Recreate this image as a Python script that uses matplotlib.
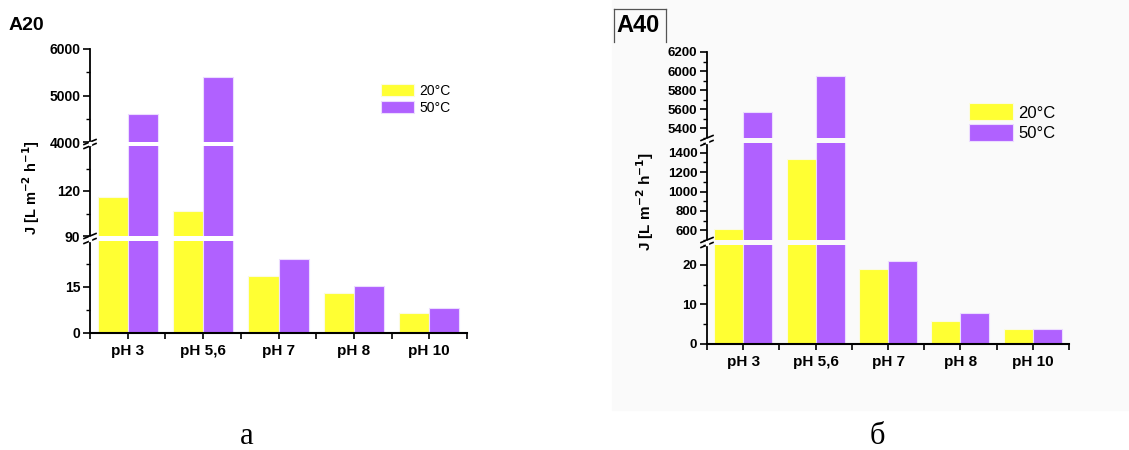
import matplotlib
matplotlib.use("Agg")
import matplotlib.pyplot as plt
from matplotlib.lines import Line2D
from matplotlib.patches import Rectangle
import numpy as np

plt.rcParams['font.family'] = ['Liberation Sans', 'DejaVu Sans']

# data
categories = ['pH 3', 'pH 5,6', 'pH 7', 'pH 8', 'pH 10']
a20_t20 = [116, 107, 18.6, 12.9, 6.5]
a20_t50 = [4610, 5400, 24.1, 15.3, 8.1]
a40_t20 = [610, 1340, 18.9, 5.9, 3.9]
a40_t50 = [5570, 5950, 20.9, 7.9, 3.9]
labels = ['20°C', '50°C']

c20 = '#FFFF33'
c50 = '#B061FF'

W, H = 1129, 450
fig = plt.figure(figsize=(W / 100, H / 100), dpi=100)

# faint grey backdrop behind the right panel
fig.add_artist(Rectangle((612 / W, 1 - 410 / H), (W - 612) / W, 410 / H,
                         transform=fig.transFigure, color='#fafafa', zorder=-10))


def px(x, y):
    return x / W, 1 - y / H


def panel(x0, x1, segs, v20, v50, ysize):
    # segs: (ylim, top px, bottom px, major ticks, minor ticks), top segment first
    axes = []
    x = np.arange(len(categories))
    for i, (ylim, ytop, ybot, major, minor) in enumerate(segs):
        ax = fig.add_axes([x0 / W, 1 - ybot / H, (x1 - x0) / W, (ybot - ytop) / H])
        ax.patch.set_alpha(0)
        ax.bar(x - 0.2, v20, 0.4, color=c20, edgecolor='#fbfbe0', linewidth=0.8, label=labels[0])
        ax.bar(x + 0.2, v50, 0.4, color=c50, edgecolor='#ecdcff', linewidth=0.8, label=labels[1])
        ax.set_xlim(-0.5, len(categories) - 0.5)
        ax.set_ylim(*ylim)
        ax.set_yticks(major)
        ax.set_yticks(minor, minor=True)
        for s in ['top', 'right']:
            ax.spines[s].set_visible(False)
        ax.spines['left'].set_linewidth(1.3)
        ax.spines['bottom'].set_linewidth(1.5)
        ax.tick_params(axis='y', which='major', direction='out', length=5, width=1.2,
                       labelsize=ysize, pad=2)
        ax.tick_params(axis='y', which='minor', direction='out', length=3, width=1)
        for t in ax.get_yticklabels():
            t.set_fontweight('bold')
        last = i == len(segs) - 1
        if last:
            ax.set_xticks(x)
            ax.set_xticks(np.arange(-0.5, len(categories), 1.0), minor=True)
            ax.set_xticklabels(categories, fontsize=11, fontweight='bold')
            ax.tick_params(axis='x', which='both', direction='out', length=4, width=1.2, pad=4)
        else:
            ax.spines['bottom'].set_visible(False)
            ax.set_xticks([])
        axes.append(ax)
    # break marks on the y axis between segments
    for j in range(len(segs) - 1):
        yb = segs[j][2]
        yt = segs[j + 1][1]
        for yy in (yb, yt):
            fig.add_artist(Line2D([(x0 - 6) / W, (x0 + 6) / W],
                                  [1 - (yy + 2.5) / H, 1 - (yy - 2.5) / H],
                                  transform=fig.transFigure, color='black', lw=1.2))
        fig.add_artist(Rectangle(((x0 - 1) / W, 1 - (yt - 0.5) / H), 2 / W, (yt - yb - 1) / H,
                                 transform=fig.transFigure, color='white', zorder=5))
    return axes


# panel a (A20)
left_axes = panel(90, 467, [
    ((4000, 6000), 49, 142, [4000, 5000, 6000], [4500, 5500]),
    ((90, 150), 146, 236, [90, 120], [105, 135]),
    ((0, 30), 241, 333, [0, 15], [7.5, 22.5]),
], a20_t20, a20_t50, 10)

# panel б (A40)
right_axes = panel(707, 1069, [
    ((5300, 6200), 52, 138, np.arange(5400, 6201, 200), np.arange(5300, 6201, 100)),
    ((500, 1500), 143, 240, np.arange(600, 1401, 200), np.arange(500, 1501, 100)),
    ((0, 25), 245, 344, [0, 10, 20], [5, 15, 25]),
], a40_t20, a40_t50, 9.5)

# legends
left_axes[0].legend(loc='upper left', bbox_to_anchor=px(374, 77), bbox_transform=fig.transFigure,
                    frameon=False, fontsize=10, handlelength=2.4, handleheight=1.0,
                    handletextpad=0.35, labelspacing=0.2, borderpad=0)
right_axes[0].legend(loc='upper left', bbox_to_anchor=px(961, 95), bbox_transform=fig.transFigure,
                     frameon=False, fontsize=12, handlelength=2.6, handleheight=1.2,
                     handletextpad=0.35, labelspacing=0.2, borderpad=0)

# y labels
ylab = 'J [L m$^{\\mathbf{-2}}$ h$^{\\mathbf{-1}}$]'
fig.text(*px(31, 188), ylab, rotation=90, ha='center', va='center', fontsize=10.5, fontweight='bold')
fig.text(*px(645, 202), ylab, rotation=90, ha='center', va='center', fontsize=11, fontweight='bold')

# titles
fig.text(*px(9, 26), 'A20', ha='left', va='center', fontsize=14, fontweight='bold')
fig.text(*px(616, 26), 'A40', ha='left', va='center', fontsize=17, fontweight='bold')
for xs, ys in [([614, 614], [42, 9]), ([614, 666], [9, 9]), ([666, 666], [9, 42])]:
    fig.add_artist(Line2D([v / W for v in xs], [1 - v / H for v in ys],
                          transform=fig.transFigure, color='#555555', lw=0.9))

# sub-figure letters
fig.text(*px(247, 436), 'а', ha='center', va='center', fontsize=22, family='Liberation Serif')
fig.text(*px(877, 436), 'б', ha='center', va='center', fontsize=22, family='Liberation Serif')

fig.savefig('out.png', dpi=100)
